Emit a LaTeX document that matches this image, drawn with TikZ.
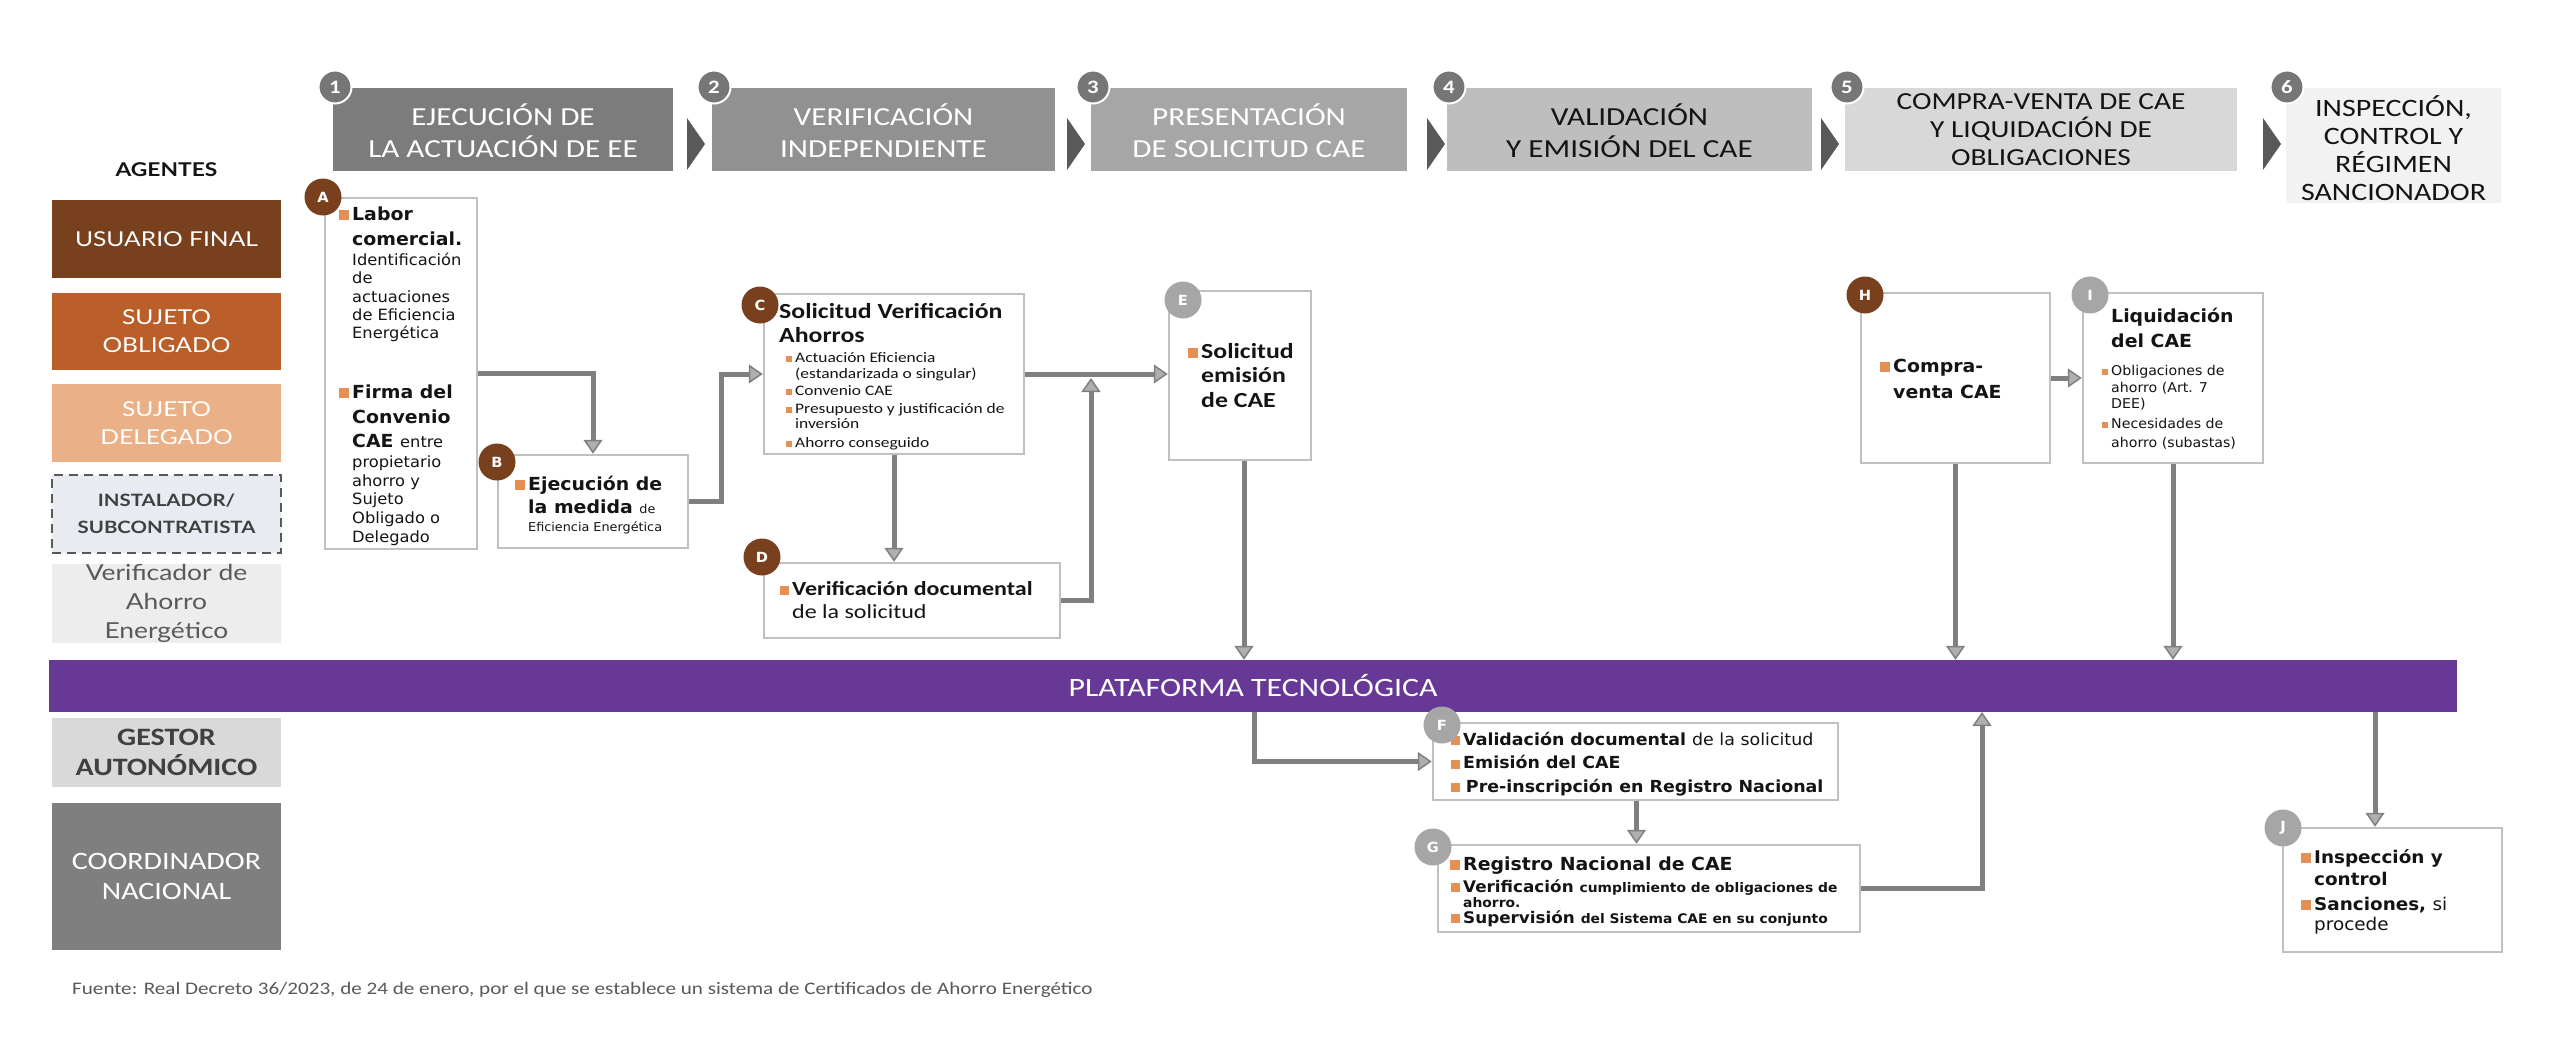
\documentclass[tikz,border=0pt]{standalone}
\usepackage{fontspec}
\setmainfont{Carlito}[FakeStretch=1.2]
\newfontfamily\lat{Lato}[FakeStretch=1.2]
\newfontfamily\vd{DejaVu Sans}[FakeStretch=1.05]
\usetikzlibrary{arrows.meta,calc}

\definecolor{cbrown}{RGB}{121,64,29}
\definecolor{corange}{RGB}{186,94,42}
\definecolor{cpeach}{RGB}{234,177,137}
\definecolor{cins}{RGB}{232,236,242}
\definecolor{cver}{RGB}{237,237,237}
\definecolor{cpurp}{RGB}{103,56,150}
\definecolor{cbul}{RGB}{228,143,84}
\definecolor{carr}{RGB}{128,128,128}
\definecolor{carrf}{RGB}{175,175,175}
\definecolor{cbord}{RGB}{192,192,192}
\definecolor{hA}{RGB}{124,124,124}
\definecolor{hB}{RGB}{145,145,145}
\definecolor{hC}{RGB}{166,166,166}
\definecolor{hD}{RGB}{190,190,190}
\definecolor{hE}{RGB}{216,216,216}
\definecolor{hF}{RGB}{242,242,242}
\definecolor{cnum}{RGB}{118,118,118}
\definecolor{cgrayc}{RGB}{166,166,166}
\definecolor{cchev}{RGB}{89,89,89}
\definecolor{cdark}{RGB}{64,64,64}
\definecolor{cmid}{RGB}{89,89,89}
\definecolor{cgest}{RGB}{217,217,217}
\definecolor{ccoord}{RGB}{127,127,127}
\definecolor{cblk}{RGB}{20,20,20}

\newcommand{\fsz}[2]{\fontsize{#1pt}{#2pt}\selectfont}
\newcommand{\bsq}[1]{\leavevmode\llap{\textcolor{cbul}{\rule{#1pt}{#1pt}}\hspace{3pt}}}
\newcommand{\tb}[2]{\begin{minipage}[t]{#1}\raggedright #2\end{minipage}}

\begin{document}
\begin{tikzpicture}[x=1pt,y=-1pt,
  hbox/.style={rectangle, inner sep=0, minimum height=83},
  htxt/.style={inner sep=0, align=center, font=\fsz{26}{32}},
  hsm/.style={inner sep=0, align=center, font=\fsz{24.5}{28}, text=cblk},
  numc/.style={circle, fill=cnum, draw=white, line width=2, minimum size=33, inner sep=0, text=white, font=\bfseries\fsz{19}{19}},
  agbox/.style={rectangle, inner sep=0, minimum width=229, minimum height=78, align=center, font=\lat\fsz{20.5}{28}, text=white},
  wbox/.style={rectangle, draw=cbord, line width=2.5, fill=white, inner sep=0},
  txt/.style={inner sep=0, anchor=base west, text=cblk},
  bcirc/.style={circle, fill=cbrown, minimum size=37, inner sep=0, text=white, font=\vd\bfseries\fsz{14}{14}},
  gcirc/.style={bcirc, fill=cgrayc},
  conn/.style={draw=carr, line width=5, -{Triangle[length=14pt,width=19pt,fill=carrf,line width=1.5pt]}},
  chev/.style={fill=cchev}]
\useasboundingbox (0,0) rectangle (2560,1038);
\fill[white] (0,0) rectangle (2560,1038);

% ---------- header ----------
\node[hbox, fill=hA, minimum width=340] (h1) at (503,129.5) {};
\node[hbox, fill=hB, minimum width=343] (h2) at (883.5,129.5) {};
\node[hbox, fill=hC, minimum width=316] (h3) at (1249,129.5) {};
\node[hbox, fill=hD, minimum width=365] (h4) at (1629.5,129.5) {};
\node[hbox, fill=hE, minimum width=392] (h5) at (2041,129.5) {};
\node[hbox, fill=hF, minimum width=215, minimum height=115] (h6) at (2393.5,145.5) {};

\node[htxt, text=white] (h1t) at (503,131) {EJECUCIÓN DE\\LA ACTUACIÓN DE EE};
\node[htxt, text=white] (h2t) at (883.5,131) {VERIFICACIÓN\\INDEPENDIENTE};
\node[htxt, text=white] (h3t) at (1249,131) {PRESENTACIÓN\\DE SOLICITUD CAE};
\node[htxt, text=cblk] (h4t) at (1629.5,131) {VALIDACIÓN\\Y EMISIÓN DEL CAE};
\node[hsm] (h5t) at (2041,130) {COMPRA-VENTA DE CAE\\Y LIQUIDACIÓN DE\\OBLIGACIONES};
\node[hsm, font=\fsz{25}{28}] (h6t) at (2393.5,148) {INSPECCIÓN,\\CONTROL Y\\RÉGIMEN\\SANCIONADOR};

\fill[chev] (687,118) -- (705,144) -- (687,170) -- cycle;
\fill[chev] (1067,118) -- (1085,144) -- (1067,170) -- cycle;
\fill[chev] (1427,118) -- (1445,144) -- (1427,170) -- cycle;
\fill[chev] (1821,118) -- (1839,144) -- (1821,170) -- cycle;
\fill[chev] (2263,118) -- (2281,144) -- (2263,170) -- cycle;

\node[numc] (n1) at (335,87) {1};
\node[numc] (n2) at (714,87) {2};
\node[numc] (n3) at (1093,87) {3};
\node[numc] (n4) at (1449,87) {4};
\node[numc] (n5) at (1847,87) {5};
\node[numc] (n6) at (2287,87) {6};

% ---------- agents ----------
\node[inner sep=0, font=\lat\bfseries\fsz{19}{19}, text=cblk] (ag) at (166.5,170) {AGENTES};
\node[agbox, fill=cbrown] (uf) at (166.5,239) {USUARIO FINAL};
\node[agbox, fill=corange, minimum height=77] (so) at (166.5,331.5) {SUJETO\\OBLIGADO};
\node[agbox, fill=cpeach] (sd) at (166.5,423) {SUJETO\\DELEGADO};
\node[agbox, fill=cins, draw=cmid, dash pattern=on 9pt off 6pt, line width=2.5, text=cdark, font=\lat\bfseries\fsz{17}{27}] (ins) at (166.5,514) {INSTALADOR/\\SUBCONTRATISTA};
\node[agbox, fill=cver, minimum height=77, text=cmid, font=\lat\fsz{22}{29}] (ver) at (166.5,603.5) {Verificador de\\Ahorro\\Energético};
\node[agbox, fill=cgest, minimum height=69, text=cdark, font=\bfseries\fsz{25}{30}] (ga) at (166.5,752.5) {GESTOR\\AUTONÓMICO};
\node[agbox, fill=ccoord, minimum height=147, font=\fsz{25}{30}] (cn) at (166.5,876.5) {COORDINADOR\\NACIONAL};

% ---------- platform ----------
\node[rectangle, fill=cpurp, minimum width=2408, minimum height=52, inner sep=0, text=white, font=\fsz{26.5}{26.5}] (bar) at (1253,686) {PLATAFORMA TECNOLÓGICA};

% ---------- process boxes ----------
\node[wbox, minimum width=152, minimum height=351] (A) at (401,373.5) {};
\node[wbox, minimum width=190, minimum height=93] (B) at (593,501.5) {};
\node[wbox, minimum width=260, minimum height=160] (C) at (894,374) {};
\node[wbox, minimum width=296, minimum height=75] (D) at (912,600.5) {};
\node[wbox, minimum width=142, minimum height=169] (E) at (1240,375.5) {};
\node[wbox, minimum width=189, minimum height=170] (H) at (1955.5,378) {};
\node[wbox, minimum width=180, minimum height=170] (I) at (2173,378) {};
\node[wbox, minimum width=405, minimum height=77] (F) at (1635.5,761.5) {};
\node[wbox, minimum width=422, minimum height=87] (G) at (1649,888.5) {};
\node[wbox, minimum width=219, minimum height=124] (J) at (2392.5,890) {};

% ---------- box texts ----------
\node[txt] (tA) at (337,220) {\tb{300pt}{\vd\leftskip=15pt
\fsz{18}{25}\bfseries\bsq{10}Labor\\
comercial.\\
\fsz{15.5}{20}\mdseries Identificación\\
\fsz{15.5}{18.5}de\\
actuaciones\\
de Eficiencia\\
Energética\\
\fsz{18}{59}\bfseries\bsq{10}Firma del\\
\fsz{18}{25}Convenio\\
CAE {\fsz{15.5}{20}\mdseries entre}\\
\fsz{15.5}{20}\mdseries propietario\\
\fsz{15.5}{18.5}ahorro y\\
Sujeto\\
Obligado o\\
Delegado}};

\node[txt] (tB) at (513,490) {\tb{300pt}{\vd\leftskip=15pt
\fsz{18}{23}\bfseries\bsq{10}Ejecución de\\
la medida {\fsz{12.2}{23}\mdseries de}\\
\fsz{12.2}{18}\mdseries Eficiencia Energética}};

\node[txt] (tC) at (779,318) {\tb{300pt}{\leftskip=0pt
\fsz{21.5}{24}\bfseries Solicitud Verificación\\
Ahorros\\
\leftskip=16pt \fsz{14.5}{20}\mdseries\bsq{6}Actuación Eficiencia\\
\fsz{14.5}{16.5}(estandarizada o singular)\\
\bsq{6}Convenio CAE\\
\fsz{14.5}{18}\bsq{6}Presupuesto y justificación de\\
\fsz{14.5}{15.5}inversión\\
\fsz{14.5}{18.5}\bsq{6}Ahorro conseguido}};

\node[txt] (tD) at (778,595) {\tb{400pt}{\leftskip=14pt
\fsz{20}{23}\bfseries\bsq{9}Verificación documental\\
\mdseries de la solicitud}};

\node[txt] (tE) at (1187,358) {\tb{300pt}{\leftskip=14pt
\fsz{21.5}{24.5}\bfseries\bsq{10}Solicitud\\
emisión\\
de CAE}};

\node[txt] (tH) at (1877,372) {\tb{300pt}{\vd\leftskip=16pt
\fsz{18}{26}\bfseries\bsq{10}Compra-\\
venta CAE}};

\node[txt] (tI) at (2096,322) {\tb{300pt}{\vd\leftskip=15pt
\fsz{18}{25}\bfseries Liquidación\\
del CAE\\
\fsz{13.5}{28}\mdseries\bsq{6}Obligaciones de\\
\fsz{13.5}{17}ahorro (Art. 7\\
\fsz{13.5}{16}DEE)\\
\fsz{13.5}{20}\bsq{6}Necesidades de\\
\fsz{13.5}{19}ahorro (subastas)}};

\node[txt] (tF) at (1448,745) {\tb{500pt}{\vd\leftskip=15pt
\fsz{16.6}{23.5}\bfseries\bsq{9}Validación documental {\mdseries de la solicitud}\\
\bsq{9}Emisión del CAE\\
\bsq{9}\,Pre-inscripción en Registro Nacional}};

\node[txt] (tG) at (1450,870) {\tb{500pt}{\vd\leftskip=13pt
\fsz{18}{22}\bfseries\bsq{10}Registro Nacional de CAE\\
\fsz{16}{22}\bsq{9}Verificación {\fsz{13.2}{22}cumplimiento de obligaciones de}\\
\fsz{13.2}{15}ahorro.\\
\fsz{16}{16}\bsq{9}Supervisión {\fsz{13.2}{16}del Sistema CAE en su conjunto}}};

\node[txt] (tJ) at (2300,863) {\tb{300pt}{\vd\leftskip=14pt
\fsz{17.5}{22}\bfseries\bsq{10}Inspección y\\
control\\
\fsz{17.5}{25}\bsq{10}Sanciones, {\mdseries si}\\
\fsz{17.5}{20}\mdseries procede}};

% ---------- letter circles ----------
\node[bcirc] (cA) at (323,197) {A};
\node[bcirc] (cB) at (497,462) {B};
\node[bcirc] (cC) at (760,305) {C};
\node[bcirc] (cD) at (762,557) {D};
\node[gcirc] (cE) at (1183,300) {E};
\node[gcirc] (cF) at (1442,725) {F};
\node[gcirc] (cG) at (1433,847) {G};
\node[bcirc] (cH) at (1865,295) {H};
\node[gcirc] (cI) at (2090,295) {I};
\node[gcirc] (cJ) at (2283,828) {J};

% ---------- connectors ----------
\coordinate (jn) at (1091,378);
\coordinate (bf) at (1254,712);
\coordinate (gb) at (1982,712);
\coordinate (bj) at (2375,712);

\draw[conn] (A.east) -| (B.north);
\draw[conn] (B.east) -- ++(32,0) |- (C.west);
\draw[conn] (C.south) -- (C.south |- D.north);
\draw[conn] (D.east) -| (jn);
\draw[conn] (C.east) -- (C.east -| E.west);
\draw[conn] ($(E.south)+(4,0)$) -- ($(E.south |- bar.north)+(4,0)$);
\draw[conn] (bf) |- (F.west);
\draw[conn] ($(F.south)+(1,0)$) -- ($(F.south |- G.north)+(1,0)$);
\draw[conn] (G.east) -| (gb);
\draw[conn] (H.east) -- (I.west);
\draw[conn] (H.south) -- (H.south |- bar.north);
\draw[conn] (I.south) -- (I.south |- bar.north);
\draw[conn] (bj) -- (bj |- J.north);

% ---------- source ----------
\node[inner sep=0, anchor=west, text=cmid, font=\fsz{17.6}{17.6}] (src) at (72,990) {Fuente: Real Decreto 36/2023, de 24 de enero, por el que se establece un sistema de Certificados de Ahorro Energético};
\end{tikzpicture}
\end{document}
